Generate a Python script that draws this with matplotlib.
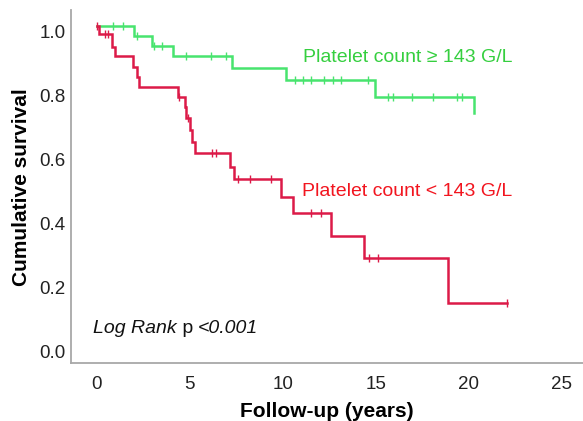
import numpy as np
import matplotlib
matplotlib.use("Agg")
import matplotlib.pyplot as plt
from matplotlib.transforms import ScaledTranslation, offset_copy

plt.rcParams['font.family'] = ['Liberation Sans', 'DejaVu Sans']

# ---- data ----
hi_event_times = [0.0, 2.0, 2.95, 4.08, 7.28, 10.2, 14.98, 20.3]
hi_survival    = [1.0, 0.969, 0.938, 0.906, 0.868, 0.830, 0.777, 0.727]
hi_censored    = [0.89, 1.43, 2.18, 3.08, 3.52, 4.79, 6.17, 6.97,
                  10.64, 11.09, 11.54, 12.25, 12.70, 13.14, 14.57,
                  15.65, 15.91, 16.98, 18.10, 19.40, 19.67]

lo_event_times = [0.0, 0.1, 0.8, 0.98, 1.95, 2.15, 2.3, 4.38, 4.74, 4.83, 5.0,
                  5.1, 5.27, 7.19, 7.37, 9.9, 10.55, 12.6, 14.36, 18.9, 22.05]
lo_survival    = [1.0, 0.975, 0.935, 0.906, 0.873, 0.842, 0.808, 0.777, 0.748,
                  0.712, 0.675, 0.638, 0.602, 0.560, 0.521, 0.467, 0.417,
                  0.345, 0.274, 0.135, 0.135]
lo_censored    = [0.0, 0.45, 0.62, 4.43, 4.9, 6.22, 6.44, 7.6, 8.23, 9.39,
                  11.53, 12.07, 14.66, 15.11, 22.05]

x_ticks = [0, 5, 10, 15, 20, 25]
y_ticks = [0.0, 0.2, 0.4, 0.6, 0.8, 1.0]

hi_label = "Platelet count \u2265 143 G/L"
lo_label = "Platelet count < 143 G/L"

hi_line_color = "#48E46E"
hi_text_color = "#35CF3F"
lo_line_color = "#DC1A48"
lo_text_color = "#F2151F"

def surv_at(times, surv, t):
    idx = np.searchsorted(np.asarray(times), np.asarray(t), side='right') - 1
    return np.asarray(surv)[idx]

fig = plt.figure(figsize=(5.83, 4.21), dpi=100)
ax = fig.add_axes([71/583, 57.7/421, 1 - 71/583, (363.3 - 10)/421])

for times, surv, cens, col in [(hi_event_times, hi_survival, hi_censored, hi_line_color),
                               (lo_event_times, lo_survival, lo_censored, lo_line_color)]:
    ax.step(times, surv, where='post', color=col, lw=1.8, solid_joinstyle='miter')
    ax.plot(cens, surv_at(times, surv, cens), linestyle='none', marker='|',
            markersize=6, markeredgewidth=1.0, color=col)

ax.set_xlim(-1.38, 26.15)
ax.set_ylim(-0.054, 1.05)
ax.set_xticks(x_ticks)
ax.set_yticks(y_ticks)
ax.set_xticklabels([str(v) for v in x_ticks])
ax.set_yticklabels([f"{v:.1f}" for v in y_ticks])
ax.tick_params(axis='both', length=0, labelsize=13.5, colors='#222222')
ax.tick_params(axis='x', pad=9)
ax.tick_params(axis='y', pad=4)
off = ScaledTranslation(0, -5.7/100, fig.dpi_scale_trans)
for lab in ax.get_yticklabels():
    lab.set_transform(lab.get_transform() + off)

for s in ['top', 'right']:
    ax.spines[s].set_visible(False)
for s in ['left', 'bottom']:
    ax.spines[s].set_color('#A8A8A8')
    ax.spines[s].set_linewidth(1.3)

ax.set_xlabel("Follow-up (years)", fontsize=15, fontweight='bold', labelpad=6.5)
ax.set_ylabel("Cumulative survival", fontsize=15, fontweight='bold', labelpad=6)

ax.text(11.07, 0.903, hi_label, color=hi_text_color, fontsize=14, va='center', ha='left')
ax.text(11.02, 0.482, lo_label, color=lo_text_color, fontsize=14, va='center', ha='left')

# Log Rank p <0.001 (mixed styles)
fs = 14
t1 = ax.text(-0.2, 0.055, "Log Rank", style='italic', fontsize=fs, va='center', ha='left', color='#111111')
fig.canvas.draw()
r = fig.canvas.get_renderer()
w1 = t1.get_window_extent(r).width
t2 = ax.text(-0.2, 0.055, " p ", fontsize=fs, va='center', ha='left', color='#111111',
             transform=offset_copy(ax.transData, fig=fig, x=w1, y=0, units='dots'))
fig.canvas.draw()
w2 = t2.get_window_extent(r).width
ax.text(-0.2, 0.055, "<0.001", style='italic', fontsize=fs, va='center', ha='left', color='#111111',
        transform=offset_copy(ax.transData, fig=fig, x=w1 + w2, y=0, units='dots'))

fig.savefig("out.png", dpi=100)
